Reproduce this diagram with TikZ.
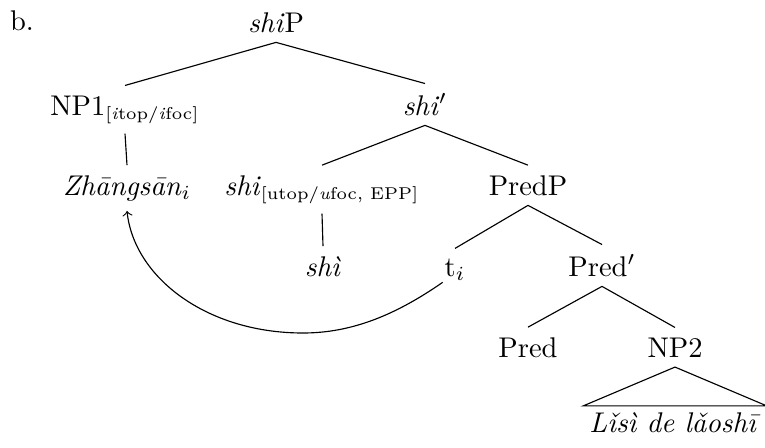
\documentclass[tikz,border=0pt]{standalone}
\usepackage{amsmath}
\newcommand{\feat}[1]{$_{\mbox{\fontsize{6}{7}\selectfont #1}}$}
\tikzset{lbl/.style={anchor=base}}
\begin{document}
\begin{tikzpicture}[x=0.351pt, y=-0.351pt]
    \useasboundingbox (0,0) rectangle (765,447);
    \node[lbl] (b) at (22,31) {b.};
    \node[lbl] (shiP) at (276,32) {\textit{shi}P};
    \node[lbl] (np1) at (125,115) {NP1\feat{[\textit{i}top/\textit{i}foc]}};
    \node[lbl] (shibar) at (425,115) {\textit{shi}$'$};
    \node[lbl] (zh) at (127,195) {\textit{Zhāngsān}$_i$};
    \node[lbl] (shi) at (322,195) {\textit{shi}\feat{[utop/\textit{u}foc, EPP]}};
    \node[lbl] (predP) at (528,195) {PredP};
    \node[lbl] (shiv) at (323,276) {\textit{shì}};
    \node[lbl] (t) at (455,276) {t$_i$};
    \node[lbl] (predbar) at (602,276) {Pred$'$};
    \node[lbl] (pred) at (528,357) {Pred};
    \node[lbl] (np2) at (675,357) {NP2};
    \node[lbl, inner sep=2pt] (lisi) at (675,432) {\textit{Lǐsì de lǎoshī}};
    \coordinate (low) at (303,333);
    \draw (shiP.south) -- (np1.north);
    \draw (shiP.south) -- (shibar.north);
    \draw (np1.south) -- (zh.north);
    \draw (shibar.south) -- (shi.north);
    \draw (shibar.south) -- (predP.north);
    \draw (shi.south) -- (shiv.north);
    \draw (predP.south) -- (t.north);
    \draw (predP.south) -- (predbar.north);
    \draw (predbar.south) -- (pred.north);
    \draw (predbar.south) -- (np2.north);
    \draw (np2.south) -- (lisi.north west) -- (lisi.north east) -- cycle;
    % movement arrow
    \draw[->] ([shift={(8,-8)}]t.south west) .. controls (397,314) and (353,333) .. (low)
        .. controls (206,333) and (134,277) .. (zh.south);
\end{tikzpicture}
\end{document}
